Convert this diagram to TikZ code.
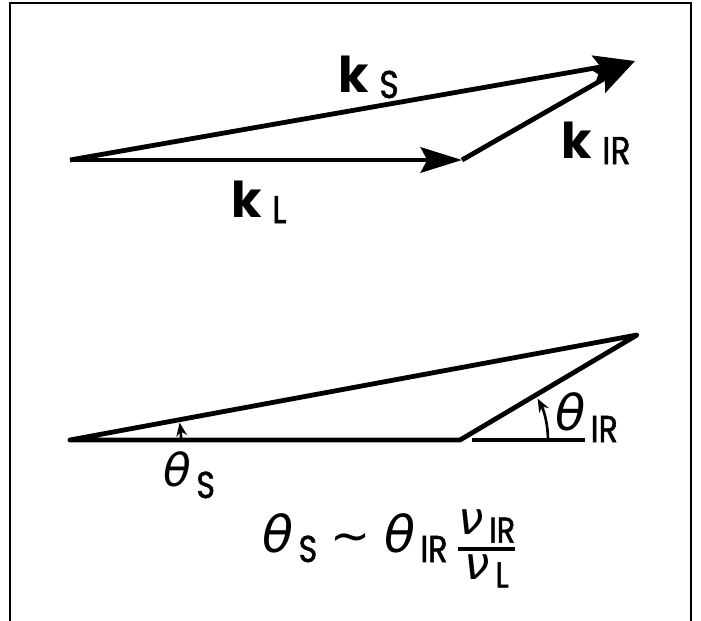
\documentclass[tikz,border=0pt]{standalone}
\usepackage{amsmath}
\usepackage{fontspec}
\setmainfont{Poppins}
\newfontfamily\greekfont{DejaVu Sans}
\newfontfamily\subfont{Poppins}[FakeBold=1.5]
\usetikzlibrary{arrows.meta, calc}
\newcommand{\subtxt}[2]{\scalebox{0.85}[1]{\subfont\fontsize{#1}{#1}\selectfont #2}}
\newcommand{\kvec}[1]{{\fontsize{37}{37}\selectfont\bfseries k}\kern8pt\raisebox{-4.5pt}{\subtxt{29}{#1}}}
\newcommand{\thsym}[3]{{\greekfont\itshape\fontsize{#1}{#1}\selectfont θ}\kern4pt\raisebox{-#3}{\subtxt{28}{#2}}}
\newcommand{\nusym}[1]{{\greekfont\itshape\fontsize{34}{34}\selectfont ν}\kern4pt\raisebox{-6pt}{\subtxt{27}{#1}}}

\begin{document}
\begin{tikzpicture}[x=0.75pt, y=-0.75pt,
      frame/.style={line width=2.2pt},
      vec/.style={line width=3.6pt, -{Stealth[length=31pt, width=19pt, inset=5pt]}},
      side/.style={line width=3.6pt, line join=round},
      angarr/.style={line width=2pt, -{Stealth[length=10pt, width=8pt]}},
      lbl/.style={inner sep=0pt, anchor=base west}]
    \useasboundingbox (0,0) rectangle (701,621);
    \draw[frame] (10,625) -- (10,3) -- (691,3) -- (691,625);
    \coordinate (O) at (70,160); \coordinate (L) at (462,160); \coordinate (S) at (635,61);
    \draw[vec] (O) -- (L); \draw[vec] (L) -- (S); \draw[vec] (O) -- (S);
    \node[lbl] (kS) at (338,92) {\kvec{S}};
    \node[lbl] (kL) at (231,217) {\kvec{L}};
    \node[lbl] (kIR) at (561,158) {\kvec{IR}};
    \coordinate (P) at (70,440); \coordinate (Q) at (460,440); \coordinate (R) at (637,335);
    \draw[side] (P) -- (Q) -- (R) -- cycle;
    \coordinate (h1) at (472,440); \coordinate (h2) at (585,440);
    \draw[line width=3pt] (h1) -- (h2);
    \draw[angarr] ($(Q)+(88,0)$) arc[start angle=0, end angle=-28, radius=88];
    \draw[angarr] ($(P)+(111,0)$) arc[start angle=0, end angle=-9, radius=111];
    \node[lbl] (thS) at (163,486) {\thsym{34}{S}{9pt}};
    \node[lbl] (thIR) at (555,430) {\thsym{37}{IR}{9pt}};
    \node[lbl] (law) at (262,552) {\thsym{38}{S}{7.5pt}\hspace{10pt}{\greekfont\fontsize{36}{36}\selectfont ∼}\hspace{10pt}\thsym{38}{IR}{7.5pt}\kern7pt$\genfrac{}{}{3pt}{}{\hbox{\nusym{IR}}}{\hbox{\nusym{L}}}$};
  \end{tikzpicture}
\end{document}
